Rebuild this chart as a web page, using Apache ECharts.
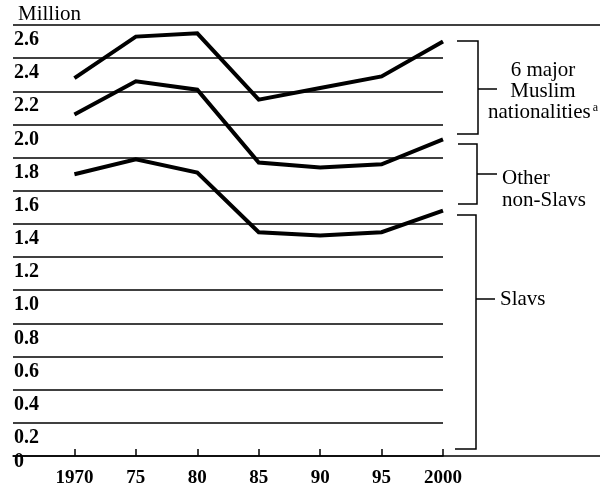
<!DOCTYPE html>
<html>
<head>
<meta charset="utf-8">
<script src="https://cdn.jsdelivr.net/npm/echarts@6/dist/echarts.min.js"></script>
<style>
  html, body { margin: 0; padding: 0; background: #fff; }
  #chart { width: 608px; height: 488px; }
</style>
</head>
<body>
<div id="chart"></div>
<script>
// data
var years = [1970, 1975, 1980, 1985, 1990, 1995, 2000];
var xTickLabels = ['1970', '75', '80', '85', '90', '95', '2000'];
var yTickLabels = ['0', '0.2', '0.4', '0.6', '0.8', '1.0', '1.2', '1.4', '1.6', '1.8', '2.0', '2.2', '2.4', '2.6'];

// top line: all non-Slav + Slav, i.e. upper edge of Muslim band
var muslimTop = [2.28, 2.53, 2.55, 2.15, 2.22, 2.29, 2.50];
// middle line: upper edge of other non-Slavs band
var otherTop = [2.06, 2.26, 2.21, 1.77, 1.74, 1.76, 1.91];
// bottom line: Slavs
var slavs = [1.70, 1.79, 1.71, 1.35, 1.33, 1.35, 1.48];

var serif = '"Liberation Serif", "DejaVu Serif", serif';

function pairs(vals) {
    return years.map(function (y, i) { return [y, vals[i]]; });
}

function lineSeries(name, vals) {
    return {
        name: name,
        type: 'line',
        data: pairs(vals),
        showSymbol: false,
        symbol: 'none',
        lineStyle: { color: '#000', width: 4, join: 'miter' },
        z: 5
    };
}

var chart = echarts.init(document.getElementById('chart'));

chart.setOption({
    animation: false,
    backgroundColor: '#fff',
    grid: { left: 13, right: 165, top: 25, bottom: 32 },
    xAxis: {
        type: 'value',
        min: 1965,
        max: 2000,
        interval: 5,
        splitLine: { show: false },
        axisLine: { lineStyle: { color: '#000', width: 1.5 } },
        axisTick: {
            inside: true,
            length: 7,
            customValues: years,
            lineStyle: { color: '#000', width: 1.5 }
        },
        axisLabel: {
            customValues: years,
            margin: 13,
            color: '#000',
            fontFamily: serif,
            fontWeight: 'bold',
            fontSize: 19,
            formatter: function (v) {
                var i = years.indexOf(Math.round(v));
                return i >= 0 ? xTickLabels[i] : '';
            }
        }
    },
    yAxis: {
        type: 'value',
        min: 0,
        max: 2.6,
        interval: 0.2,
        axisLine: { show: false },
        axisTick: { show: false },
        splitLine: { lineStyle: { color: '#000', width: 1.5 } },
        axisLabel: {
            inside: true,
            margin: 1,
            align: 'left',
            color: '#000',
            fontFamily: serif,
            fontWeight: 'bold',
            fontSize: 20,
            formatter: function (v) {
                var i = Math.round(v * 5);
                return i === 0 ? '{z|' + yTickLabels[i] + '}' : '{n|' + yTickLabels[i] + '}';
            },
            rich: {
                n: { padding: [30, 0, 0, 0], fontFamily: serif, fontWeight: 'bold', fontSize: 20, color: '#000' },
                z: { padding: [12, 0, 0, 0], fontFamily: serif, fontWeight: 'bold', fontSize: 20, color: '#000' }
            }
        }
    },
    series: [
        lineSeries('Muslim', muslimTop),
        lineSeries('Other non-Slavs', otherTop),
        lineSeries('Slavs', slavs)
    ],
    graphic: [
        {
            type: 'text', left: 18, top: 4,
            style: { text: 'Million', font: '21px ' + serif, fill: '#000' }
        },
        // top rule and baseline run on to the right edge
        { type: 'line', shape: { x1: 443, y1: 25, x2: 600, y2: 25 }, style: { stroke: '#000', lineWidth: 1.5 } },
        { type: 'line', shape: { x1: 443, y1: 456, x2: 600, y2: 456 }, style: { stroke: '#000', lineWidth: 1.5 } },
        // brackets
        { type: 'polyline', shape: { points: [[457, 41], [478, 41], [478, 134], [457, 134]] }, style: { stroke: '#000', lineWidth: 1.5, fill: null } },
        { type: 'line', shape: { x1: 478, y1: 89, x2: 497, y2: 89 }, style: { stroke: '#000', lineWidth: 1.5 } },
        { type: 'polyline', shape: { points: [[458, 144], [477, 144], [477, 204], [458, 204]] }, style: { stroke: '#000', lineWidth: 1.5, fill: null } },
        { type: 'line', shape: { x1: 477, y1: 174, x2: 497, y2: 174 }, style: { stroke: '#000', lineWidth: 1.5 } },
        { type: 'polyline', shape: { points: [[457, 215], [476, 215], [476, 449], [455, 449]] }, style: { stroke: '#000', lineWidth: 1.5, fill: null } },
        { type: 'line', shape: { x1: 476, y1: 299, x2: 495, y2: 299 }, style: { stroke: '#000', lineWidth: 1.5 } },
        // bracket labels
        {
            type: 'text', x: 543, y: 91,
            style: {
                text: '6 major\nMuslim\nnationalities{sup|a}',
                font: '21px ' + serif, fill: '#000',
                align: 'center', verticalAlign: 'middle', lineHeight: 21,
                rich: { sup: { fontSize: 12, fontFamily: serif, verticalAlign: 'top', padding: [0, 0, 8, 2] } }
            }
        },
        {
            type: 'text', x: 502, y: 189,
            style: {
                text: 'Other\nnon-Slavs',
                font: '21px ' + serif, fill: '#000',
                align: 'left', verticalAlign: 'middle', lineHeight: 22
            }
        },
        {
            type: 'text', x: 500, y: 299,
            style: {
                text: 'Slavs',
                font: '21px ' + serif, fill: '#000',
                align: 'left', verticalAlign: 'middle'
            }
        }
    ]
});
</script>
</body>
</html>
